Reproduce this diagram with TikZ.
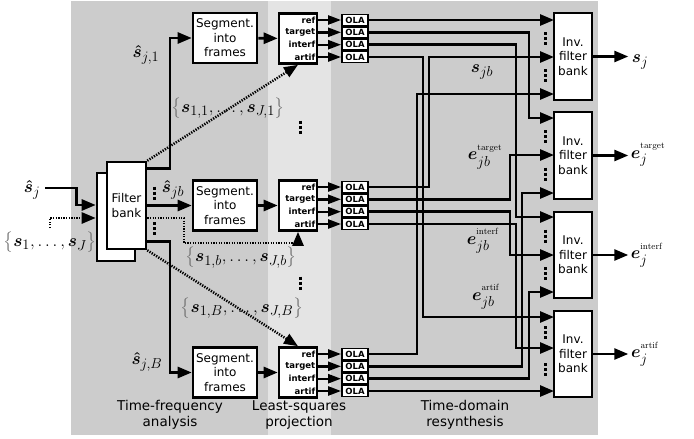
\documentclass[tikz,border=0pt]{standalone}
\usepackage{amsmath}
\usepackage[no-math]{fontspec}
\newfontfamily\dejavu{DejaVu Sans}
\usetikzlibrary{arrows.meta}
\definecolor{bgdark}{RGB}{204,204,204}
\definecolor{bglight}{RGB}{228,228,228}
\definecolor{bracegray}{RGB}{110,110,110}
\newcommand{\bs}{\boldsymbol{s}}
\newcommand{\hs}{\boldsymbol{\hat{s}}}
\newcommand{\be}{\boldsymbol{e}}
\newcommand{\tsup}[1]{^{\raisebox{3pt}{$\scriptscriptstyle\mathrm{#1}$}}}
\newcommand{\lb}{\textcolor{bracegray}{\bigl\{}}
\newcommand{\rb}{\textcolor{bracegray}{\bigr\}}}
\begin{document}
\begin{tikzpicture}[x=1pt,y=-1pt,
  every node/.style={inner sep=0pt},
  wire/.style={line width=2.6pt,-{Triangle[length=14pt,width=11pt]}},
  smallwire/.style={line width=2.4pt,-{Triangle[length=13pt,width=9pt]}},
  dotwire/.style={line width=2.5pt,dash pattern=on 1.3pt off 1.3pt,-{Triangle[length=14pt,width=11pt]}},
  blk/.style={draw,line width=2.6pt,fill=white,align=center,font=\dejavu\fontsize{12}{14.5}\selectfont},
  segbox/.style={blk,minimum width=64pt,minimum height=50pt},
  lsbox/.style={draw,line width=2.6pt,fill=white,minimum width=38pt,minimum height=50pt},
  invbox/.style={blk,minimum width=38pt,minimum height=87pt},
  ola/.style={draw,line width=1.8pt,fill=white,minimum width=26pt,minimum height=11pt,font=\dejavu\bfseries\fontsize{8.5}{9}\selectfont},
  lslab/.style={font=\dejavu\bfseries\fontsize{8.5}{9}\selectfont},
  mlab/.style={font=\fontsize{19}{22}\selectfont},
  stage/.style={align=center,font=\dejavu\fontsize{13.5}{16}\selectfont},
  vdot/.style={line width=3pt,dash pattern=on 3pt off 2pt}
]
\useasboundingbox (0,0) rectangle (694,439);
% backgrounds
\fill[bgdark] (71,1) rectangle (598,435);
\fill[bglight] (268,1) rectangle (331,435);

% filter bank
\node[blk,minimum width=38pt,minimum height=88pt] (fbs) at (116,217) {};
\node[blk,minimum width=39pt,minimum height=87pt] (fb) at (126.5,205.5) {Filter\\bank};

% segment boxes
\node[segbox] (seg1) at (225,38) {Segment.\\into\\frames};
\node[segbox] (seg2) at (225,205.5) {Segment.\\into\\frames};
\node[segbox] (seg3) at (225,372.5) {Segment.\\into\\frames};

% least squares boxes
\node[lsbox] (ls1) at (298,38.5) {};
\node[lsbox] (ls2) at (298,205.5) {};
\node[lsbox] (ls3) at (298,372.5) {};

\foreach \g/\c in {1/38.5,2/205.5,3/372.5}{
  \foreach \r/\dy/\lab in {1/-18.5/ref,2/-6.2/target,3/6.2/interf,4/18.5/artif}{
    \node[lslab,anchor=east] (lab\g\r) at (315.5,{\c+(\dy)}) {\lab};
    \node[ola] (o\g\r) at (355,{\c+(\dy)}) {OLA};
  }
}
\foreach \g in {1,2,3}{
  \foreach \r in {1,2,3,4}{
    \draw[smallwire] (o\g\r -| ls\g.east) -- (o\g\r.west);
  }
  \draw[wire] (seg\g) -- (ls\g);
}

% inverse filter banks
\node[invbox] (inv1) at (573,56.5) {Inv.\\filter\\bank};
\node[invbox] (inv2) at (573,155.5) {Inv.\\filter\\bank};
\node[invbox,minimum height=86pt] (inv3) at (573,255) {Inv.\\filter\\bank};
\node[invbox,minimum height=86pt] (inv4) at (573,354) {Inv.\\filter\\bank};

\coordinate (i1a) at (554,20);  \coordinate (i1b) at (554,57);  \coordinate (i1c) at (554,94);
\coordinate (i2a) at (554,118); \coordinate (i2b) at (554,155); \coordinate (i2c) at (554,193);
\coordinate (i3a) at (554,217); \coordinate (i3b) at (554,255); \coordinate (i3c) at (554,292);
\coordinate (i4a) at (554,317); \coordinate (i4b) at (554,348); \coordinate (i4c) at (554,391);

% resynthesis wiring
\draw[wire] (o11.east) -- (i1a);
\draw[wire] (o12.east) -| (529,118) -- (i2a);
\draw[wire] (o13.east) -| (516,217) -- (i3a);
\draw[wire] (o14.east) -| (423,317) -- (i4a);
\draw[wire] (o21.east) -| (429,57) -- (i1b);
\draw[wire] (o22.east) -| (510,155) -- (i2b);
\draw[wire] (o23.east) -| (510,255) -- (i3b);
\draw[wire] (o24.east) -| (516,348) -- (i4b);
\draw[wire] (o31.east) -| (417,94) -- (i1c);
\draw[wire] (o32.east) -| (522,193) -- (i2c);
\draw[wire] (o33.east) -| (529,292) -- (i3c);
\draw[wire] (o34.east) -- (i4c);

% dots at inverse filter bank inputs
\foreach \y in {38.5,75.5,136.5,174,236,273.5,332.5,369.5}{
  \draw[vdot] (545,\y-6.5) -- (545,\y+6.5);
}

% outputs
\node[mlab] (osj) at (640,62) {$\bs_j$};
\node[mlab] (oet) at (648,155) {$\be_j\tsup{target}$};
\node[mlab] (oei) at (647,255) {$\be_j\tsup{interf}$};
\node[mlab] (oea) at (645,354) {$\be_j\tsup{artif}$};
\draw[wire] (inv1.east) -- ++(35,0);
\draw[wire] (inv2.east) -- ++(35,0);
\draw[wire] (inv3.east) -- ++(35,0);
\draw[wire] (inv4.east) -- ++(35,0);

% inner labels
\node[mlab] (lsjb) at (482,72) {$\bs_{jb}$};
\node[mlab] (let) at (485,157) {$\be_{jb}\tsup{target}$};
\node[mlab] (lei) at (483,241) {$\be_{jb}\tsup{interf}$};
\node[mlab] (lea) at (486,297) {$\be_{jb}\tsup{artif}$};

% input side
\node[mlab] (shat) at (32,190) {$\hs_j$};
\node[mlab] (sall) at (50,242) {$\lb\bs_1,\ldots,\bs_J\rb$};
\draw[wire] ([xshift=5pt,yshift=2pt]shat.east) -- ++(31,0) |- ([yshift=12pt]fbs.west);
\draw[dotwire] (50,228) |- ([yshift=-1pt]fbs.west);

% filter bank outputs
\draw[wire] ([yshift=-8pt]fb.north east) -- ++(22.5,0) |- (seg1.west);
\draw[wire] (fb.east) -- (seg2.west);
\draw[wire] ([yshift=9pt]fb.south east) -- ++(22.5,0) |- (seg3.west);
\draw[dotwire] (fb.north east) -- (ls1.south);
\draw[dotwire] ([yshift=-12.5pt]fb.east) -- ++(36.5,0) -- ++(0,25) -| (ls2.south);
\draw[dotwire] (fb.south east) -- (ls3.north);

\draw[vdot] (154,186.5) -- (154,199.5);
\draw[vdot] (154,222) -- (154,235);
\draw[vdot] (300,120.5) -- (300,133.5);
\draw[vdot] (300,276.5) -- (300,289.5);

\node[mlab] (l1) at (146,55) {$\hs_{j,1}$};
\node[mlab] (lb) at (173,190) {$\hs_{jb}$};
\node[mlab] (lB) at (147,362) {$\hs_{j,B}$};
\node[mlab] (d1) at (228,108) {$\lb\bs_{1,1},\ldots,\bs_{J,1}\rb$};
\node[mlab] (db) at (241,258) {$\lb\bs_{1,b},\ldots,\bs_{J,b}\rb$};
\node[mlab] (dB) at (242,308) {$\lb\bs_{1,B},\ldots,\bs_{J,B}\rb$};

% stage labels
\node[stage] (st1) at (170,415) {Time-frequency\\analysis};
\node[stage] (st2) at (299,415) {Least-squares\\projection};
\node[stage] (st3) at (465,415) {Time-domain\\resynthesis};
\end{tikzpicture}
\end{document}
